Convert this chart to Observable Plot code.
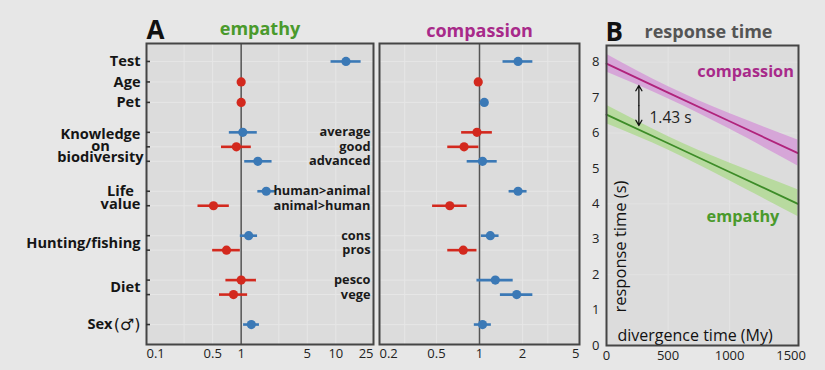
<!DOCTYPE html>
<html><head><meta charset="utf-8">
<script src="https://cdn.jsdelivr.net/npm/d3@7"></script>
<script src="https://cdn.jsdelivr.net/npm/@observablehq/plot@0.6"></script>
<style>
html,body{margin:0;padding:0;background:#e7e7e7;}
#wrap{position:relative;width:825px;height:370px;overflow:hidden;background:#e7e7e7;}
#wrap svg{position:absolute;left:0;top:0;}
</style></head><body><div id="wrap"></div>
<script>
// ---------- data: panel A ----------
const rowKeys   = ["Test","Age","Pet","average","good","advanced","human>animal","animal>human","cons","pros","pesco","vege","Sex"];
const rowGroup  = ["Test","Age","Pet","Knowledge","Knowledge","Knowledge","Life","Life","Hunting","Hunting","Diet","Diet","Sex"];
const groupKeys   = ["Test","Age","Pet","Knowledge","Life","Hunting","Diet","Sex"];
const groupLabels = ["Test","Age","Pet","Knowledge\non\nbiodiversity","Life\nvalue","Hunting/fishing","Diet","Sex (♂)"];
const levelLabels = ["","","","average","good","advanced","human>animal","animal>human","cons","pros","pesco","vege",""];

const empEst = [12.8, 1.0, 1.0, 1.04, 0.89, 1.50, 1.84, 0.51, 1.20, 0.70, 1.00, 0.83, 1.28];
const empLo  = [8.9,  1.0, 1.0, 0.75, 0.62, 1.09, 1.50, 0.35, 0.98, 0.50, 0.69, 0.59, 1.06];
const empHi  = [18.5, 1.0, 1.0, 1.48, 1.28, 2.12, 2.30, 0.75, 1.49, 0.98, 1.45, 1.17, 1.56];
const empDir = ["up","down","down","up","down","up","up","down","up","down","down","down","up"];

const comEst = [1.86, 0.98, 1.08, 0.96, 0.78, 1.05, 1.86, 0.62, 1.19, 0.77, 1.29, 1.82, 1.05];
const comLo  = [1.46, 0.98, 1.08, 0.75, 0.60, 0.82, 1.61, 0.47, 1.03, 0.60, 0.96, 1.40, 0.92];
const comHi  = [2.36, 0.98, 1.08, 1.23, 0.99, 1.33, 2.15, 0.82, 1.37, 0.96, 1.72, 2.36, 1.21];
const comDir = ["up","down","up","down","down","up","up","down","up","down","up","up","up"];

const empTicks = [0.1, 0.5, 1, 5, 10, 25];
const empGrid  = [0.25, 0.5, 2.5, 5, 10];
const comTicks = [0.2, 0.5, 1, 2, 5];
const comGrid  = [0.3, 0.5, 2, 3];

// ---------- data: panel B ----------
const divTime  = [0, 500, 1000, 1555];
const comFit   = [7.96, 7.14, 6.33, 5.43];
const comBandLo= [7.72, 6.97, 6.11, 5.07];
const comBandHi= [8.22, 7.31, 6.55, 5.80];
const empFit   = [6.52, 5.71, 4.90, 4.00];
const empBandLo= [6.26, 5.52, 4.65, 3.64];
const empBandHi= [6.78, 5.90, 5.15, 4.40];
const bYTicks  = [0,1,2,3,4,5,6,7,8];
const bXTicks  = [0,500,1000,1500];
const gapX = 263, gapTop = 7.34, gapBottom = 6.21, gapLabel = "1.43 s";

// ---------- layout helpers ----------
const FONT = "Open Sans, sans-serif";
const BLUE = "#3b79b6", RED = "#d3291e";
const GREEN = "#4a9a2c", PURPLE = "#a82a8a";
const groupSize = g => rowGroup.filter(x => x === g).length;
const ys = [];
{
  let yy = 0;
  rowKeys.forEach((k, i) => {
    if (i > 0) {
      const same = rowGroup[i] === rowGroup[i-1];
      const singles = groupSize(rowGroup[i]) === 1 && groupSize(rowGroup[i-1]) === 1;
      yy += same ? 14.5 : (singles ? 20.5 : 30);
    }
    ys.push(yy);
  });
}
const yDom = [ys[ys.length-1] + 20, -18];
const groups = groupKeys.map((g, gi) => {
  const idx = rowGroup.map((x, i) => x === g ? i : -1).filter(i => i >= 0);
  const label = groupLabels[gi];
  const m = label.match(/^(.*?)\s*(\(.+\))$/);
  return {key: g, label, main: m ? m[1] : label, sym: m ? m[2] : "", y: d3.mean(idx, i => ys[i])};
});
const mkRows = (est, lo, hi, dir) => rowKeys.map((k, i) => ({key: k, y: ys[i], est: est[i], lo: lo[i], hi: hi[i], dir: dir[i], level: levelLabels[i]}));
const empRows = mkRows(empEst, empLo, empHi, empDir);
const comRows = mkRows(comEst, comLo, comHi, comDir);

const common = {
  width: 825, height: 370, marginTop: 43, marginBottom: 26,
  style: {background: "transparent", overflow: "visible", fontFamily: FONT}
};
const colorScale = {domain: ["up","down"], range: [BLUE, RED]};
const fmt = d => String(d);

function xTickText(ticks, dy) {
  const base = {x: d => d, text: fmt, frameAnchor: "bottom", lineAnchor: "middle", dy, fontSize: 13, fill: "#222"};
  return [
    Plot.text(ticks.slice(0, 1), {...base, textAnchor: "start"}),
    Plot.text(ticks.slice(1, -1), {...base, textAnchor: "middle"}),
    Plot.text(ticks.slice(-1), {...base, textAnchor: "end"})
  ];
}

function forestMarks(rows, grid) {
  return [
    Plot.frame({fill: "#dcdcdc", stroke: "none"}),
    Plot.ruleX(grid, {stroke: "#e6e6e6", strokeWidth: 1}),
    Plot.ruleY(ys, {stroke: "#e6e6e6", strokeWidth: 1}),
    Plot.ruleX([1], {stroke: "#555", strokeWidth: 1.5}),
    Plot.ruleY(rows, {y: "y", x1: "lo", x2: "hi", stroke: "dir", strokeWidth: 2.6}),
    Plot.dot(rows, {x: "est", y: "y", r: 4.6, fill: "dir", stroke: "none"}),
    Plot.frame({stroke: "#454545", strokeWidth: 2})
  ];
}

const labelStyle = {fontWeight: "bold", fontSize: 14.6, fill: "#151515", frameAnchor: "left", lineAnchor: "middle"};

// ---------- empathy ----------
const empPlot = Plot.plot({
  ...common, marginLeft: 146, marginRight: 452,
  x: {type: "log", domain: [0.1, 25], axis: null},
  y: {domain: yDom, axis: null},
  color: colorScale,
  marks: [
    ...forestMarks(empRows, empGrid),
    Plot.ruleY(ys, {x1: 0.1, x2: 0.1 * Math.pow(10, 4 / 94.7), stroke: "#333", strokeWidth: 1.6}),
    Plot.text(empRows.filter(d => d.level), {y: "y", text: "level", frameAnchor: "right", lineAnchor: "middle", textAnchor: "end", dx: -3, fontWeight: "bold", fontSize: 12.8, fill: "#1a1a1a"}),
    Plot.text(groups.filter(g => !g.label.includes("\n") && !g.sym), {...labelStyle, y: "y", text: "label", textAnchor: "end", dx: -6}),
    Plot.text(groups.filter(g => g.sym), {...labelStyle, y: "y", text: "main", textAnchor: "end", dx: -34}),
    Plot.text(groups.filter(g => g.sym), {...labelStyle, y: "y", text: "sym", textAnchor: "end", dx: -6, fontWeight: "normal", fontSize: 16, fontFamily: "DejaVu Sans, sans-serif"}),
    Plot.text(groups.filter(g => g.key === "Knowledge"), {...labelStyle, y: "y", text: "label", textAnchor: "middle", dx: -46, lineHeight: 0.8}),
    Plot.text(groups.filter(g => g.key === "Life"), {...labelStyle, y: "y", text: "label", textAnchor: "middle", dx: -26, lineHeight: 0.9}),
    ...xTickText(empTicks, 9),
    Plot.text(["empathy"], {frameAnchor: "top", lineAnchor: "middle", dy: -14, fill: GREEN, fontWeight: "bold", fontSize: 18}),
    Plot.text(["A"], {frameAnchor: "top-left", lineAnchor: "middle", textAnchor: "start", dx: 0, dy: -13, fill: "#111", fontWeight: "bold", fontSize: 26})
  ]
});

// ---------- compassion ----------
const comPlot = Plot.plot({
  ...common, marginLeft: 379, marginRight: 246,
  x: {type: "log", domain: [0.2, 5], axis: null},
  y: {domain: yDom, axis: null},
  color: colorScale,
  marks: [
    ...forestMarks(comRows, comGrid),
    ...xTickText(comTicks, 9),
    Plot.text(["compassion"], {frameAnchor: "top", lineAnchor: "middle", dy: -12, fill: PURPLE, fontWeight: "bold", fontSize: 18})
  ]
});

// ---------- panel B ----------
const compRows = divTime.map((t, i) => ({t, fit: comFit[i], lo: comBandLo[i], hi: comBandHi[i]}));
const empbRows = divTime.map((t, i) => ({t, fit: empFit[i], lo: empBandLo[i], hi: empBandHi[i]}));
const gapMid = (gapTop + gapBottom) / 2;
const bPlot = Plot.plot({
  width: 825, height: 370, marginTop: 45, marginBottom: 25, marginLeft: 606, marginRight: 27,
  style: {background: "transparent", overflow: "visible", fontFamily: FONT},
  x: {domain: [0, 1560], axis: null},
  y: {domain: [0, 8.47], axis: null},
  marks: [
    Plot.frame({fill: "#dcdcdc", stroke: "none"}),
    Plot.ruleX([500, 1000], {stroke: "#e4e4e4"}),
    Plot.ruleY([2, 4, 6, 8], {stroke: "#e2e2e2"}),
    Plot.areaY(compRows, {x: "t", y1: "lo", y2: "hi", fill: "#d6a6d8", curve: "natural"}),
    Plot.areaY(empbRows, {x: "t", y1: "lo", y2: "hi", fill: "#b8da9f", curve: "natural"}),
    Plot.line(compRows, {x: "t", y: "fit", stroke: "#b0237c", strokeWidth: 1.8}),
    Plot.line(empbRows, {x: "t", y: "fit", stroke: "#3d8c28", strokeWidth: 1.8}),
    Plot.arrow([{y1: gapMid, y2: gapTop}, {y1: gapMid, y2: gapBottom}], {x1: gapX, x2: gapX, y1: "y1", y2: "y2", stroke: "#111", strokeWidth: 1.3, headLength: 7}),
    Plot.text([gapLabel], {x: 349, y: 6.43, textAnchor: "start", lineAnchor: "middle", fontSize: 15.5, fill: "#222"}),
    Plot.text(["compassion"], {x: 1555, y: 7.72, dx: -4, textAnchor: "end", lineAnchor: "middle", fontSize: 16.3, fontWeight: "bold", fill: PURPLE}),
    Plot.text(["empathy"], {x: 1109, y: 3.64, textAnchor: "middle", lineAnchor: "middle", fontSize: 16.3, fontWeight: "bold", fill: GREEN}),
    Plot.text(["response time (s)"], {frameAnchor: "bottom-left", lineAnchor: "middle", textAnchor: "start", rotate: -90, dx: 14, dy: -33, fontSize: 16.5, fill: "#111"}),
    Plot.text(["divergence time (My)"], {frameAnchor: "bottom-left", lineAnchor: "middle", textAnchor: "start", dx: 11, dy: -10, fontSize: 16, fill: "#111"}),
    Plot.frame({stroke: "#454545", strokeWidth: 2}),
    Plot.text(bYTicks, {y: d => d, text: fmt, frameAnchor: "left", lineAnchor: "middle", textAnchor: "end", dx: -7, fontSize: 13, fill: "#222"}),
    Plot.text(bXTicks, {x: d => d, text: fmt, frameAnchor: "bottom", lineAnchor: "middle", textAnchor: "middle", dy: 10, fontSize: 13, fill: "#222"}),
    Plot.text(["B"], {frameAnchor: "top-left", lineAnchor: "middle", textAnchor: "start", dx: -1, dy: -13, fill: "#111", fontWeight: "bold", fontSize: 26}),
    Plot.text(["response time"], {frameAnchor: "top", lineAnchor: "middle", dx: 6, dy: -13, fill: "#555", fontWeight: "bold", fontSize: 18})
  ]
});

const wrap = document.getElementById("wrap");
wrap.append(empPlot, comPlot, bPlot);
</script>
</body></html>
